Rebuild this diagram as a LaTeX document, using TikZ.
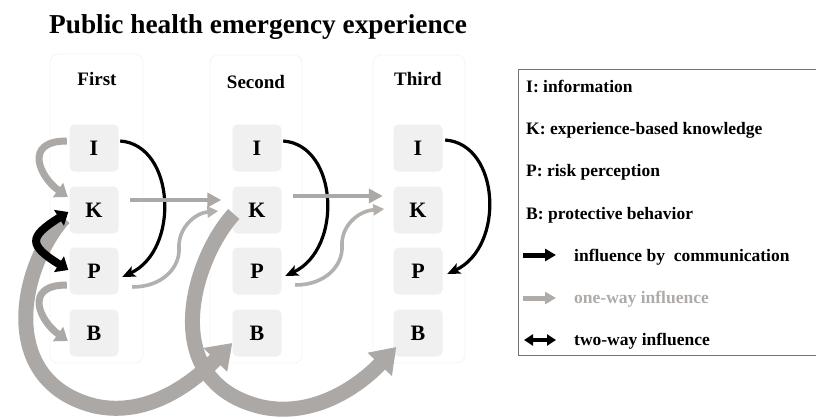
\documentclass[tikz,border=0pt]{standalone}
\usepackage{fontspec}
\setmainfont{Liberation Serif}
\usetikzlibrary{arrows.meta,calc}
\definecolor{ga}{HTML}{ABA8A6}
\definecolor{gw}{HTML}{B3B0AE}
\definecolor{boxfill}{HTML}{F0F0F0}
\definecolor{framec}{HTML}{F4F4F4}
\definecolor{lgray}{HTML}{AEABA9}
\begin{document}
\begin{tikzpicture}[x=1pt,y=-1pt,
  kbox/.style={fill=boxfill, rounded corners=5pt, minimum width=49pt, minimum height=47pt, inner sep=0pt, font=\fontsize{22}{22}\selectfont\bfseries},
  frame/.style={draw=framec, line width=0.8pt, rounded corners=8pt},
  hdr/.style={anchor=base, font=\fontsize{19}{19}\selectfont\bfseries, inner sep=0pt},
  lgtext/.style={anchor=base west, font=\fontsize{17.5}{17.5}\selectfont\bfseries, inner sep=0pt},
  comm/.style={draw=black, line width=3.2pt, -{Stealth[length=13pt,width=11pt,inset=3pt]}},
  loopg/.style={draw=ga, line width=7pt, -{Triangle[length=12pt,width=17pt]}},
  twow/.style={draw=black, line width=8pt, {Triangle[length=11pt,width=18pt]}-{Triangle[length=11pt,width=18pt]}},
  oneway/.style={draw=ga, line width=4.5pt, -{Triangle[length=14pt,width=14pt]}},
  wavy/.style={draw=gw, line width=3.6pt, -{Triangle[length=11pt,width=11pt]}},
  big/.style={draw=ga, line width=15pt, -{Triangle[length=24pt,width=32pt]}},
  lgarrow/.style={line width=5pt, -{Triangle[length=11pt,width=12pt]}},
  lgdouble/.style={draw=black, line width=4.5pt, {Triangle[length=9pt,width=11pt]}-{Triangle[length=9pt,width=11pt]}}
]
\useasboundingbox (0,0) rectangle (816,418);
\fill[white] (0,0) rectangle (816,418);

% title
\node[anchor=base west, font=\fontsize{27.3}{27.3}\selectfont\bfseries, inner sep=0pt] (title) at (49,33) {Public health emergency experience};

% column frames
\draw[frame] (50,54) rectangle (143,363);
\draw[frame] (210,55) rectangle (302,363);
\draw[frame] (373,55) rectangle (465,363);

% headers
\node[hdr] (h1) at (97,85.5) {First};
\node[hdr] (h2) at (256,88) {Second};
\node[hdr] (h3) at (418,85) {Third};

% boxes
\foreach \c/\x in {1/94,2/257,3/418}{
  \node[kbox] (I\c) at (\x,148) {I};
  \node[kbox] (K\c) at (\x,210) {K};
  \node[kbox] (P\c) at (\x,271) {P};
  \node[kbox] (B\c) at (\x,333) {B};
}

% big cross-stage arrows
\draw[big] ($(K1.west)+(-5.5,8)$) .. controls (18,270) and (-2,382) .. (95,406) .. controls (150,418) and (195,380) .. ($(B2.west)+(0,10)$);
\draw[big] ($(K2.west)+(1.5,4)$) .. controls (192,260) and (156,382) .. (262,407) .. controls (315,418) and (360,385) .. ($(B3.west)+(3,14)$);

% within first stage
\draw[loopg] ($(I1.west)+(-2.5,-7)$) .. controls +(-44,0) and +(-28,-20) .. ($(K1.west)+(-1.5,-13)$);
\draw[loopg] ($(P1.west)+(-2.5,14)$) .. controls +(-44,0) and +(-28,-20) .. ($(B1.west)+(-1.5,8)$);
\draw[twow] ($(K1.west)+(-1,2)$) .. controls +(-40,25) and +(-40,-25) .. ($(P1.west)+(-1,-1)$);

% communication arrows I -> P
\draw[comm] ($(I1.east)+(1.5,-7)$) .. controls +(55,4) and +(58,-27) .. ($(P1.east)+(3.5,6)$);
\draw[comm] ($(I2.east)+(1.5,-7)$) .. controls +(55,4) and +(58,-27) .. ($(P2.east)+(3.5,5)$);
\draw[comm] ($(I3.east)+(2.5,-8)$) .. controls +(55,4) and +(58,-27) .. ($(P3.east)+(4.5,3)$);

% K -> K
\draw[oneway] ($(K1.east)+(11.5,-10)$) -- ($(K2.west)+(-11,-10)$);
\draw[oneway] ($(K2.east)+(11.5,-14)$) -- ($(K3.west)+(-10.5,-14)$);

% P -> next K (wavy)
\draw[wavy] ($(P1.east)+(13.5,16)$) .. controls (162,287) and (180,268) .. (179,248) .. controls (178,228) and (195,213) .. ($(K2.west)+(-14,1)$);
\draw[wavy] ($(P2.east)+(13.5,14)$) .. controls (325,285) and (343,266) .. (342,246) .. controls (341,226) and (358,211) .. ($(K3.west)+(-9,-1)$);

% legend
\draw[draw=black!55, line width=1pt] (518.5,69.5) rectangle (830,355);
\node[lgtext] (l1) at (526,92) {I: information};
\node[lgtext] (l2) at (526,134) {K: experience-based knowledge};
\node[lgtext] (l3) at (526,176) {P: risk perception};
\node[lgtext] (l4) at (526,219) {B: protective behavior};
\node[lgtext] (l5) at (574,261) {influence by\ \ communication};
\node[lgtext, text=lgray] (l6) at (574,303) {one-way influence};
\node[lgtext] (l7) at (574,345) {two-way influence};
\coordinate (a5) at (523,255); \coordinate (b5) at (556,255);
\coordinate (a6) at (523,298); \coordinate (b6) at (556,298);
\coordinate (a7) at (524,340); \coordinate (b7) at (556,340);
\draw[lgarrow, draw=black] (a5) -- (b5);
\draw[lgarrow, draw=lgray] (a6) -- (b6);
\draw[lgdouble] (a7) -- (b7);
\end{tikzpicture}
\end{document}
